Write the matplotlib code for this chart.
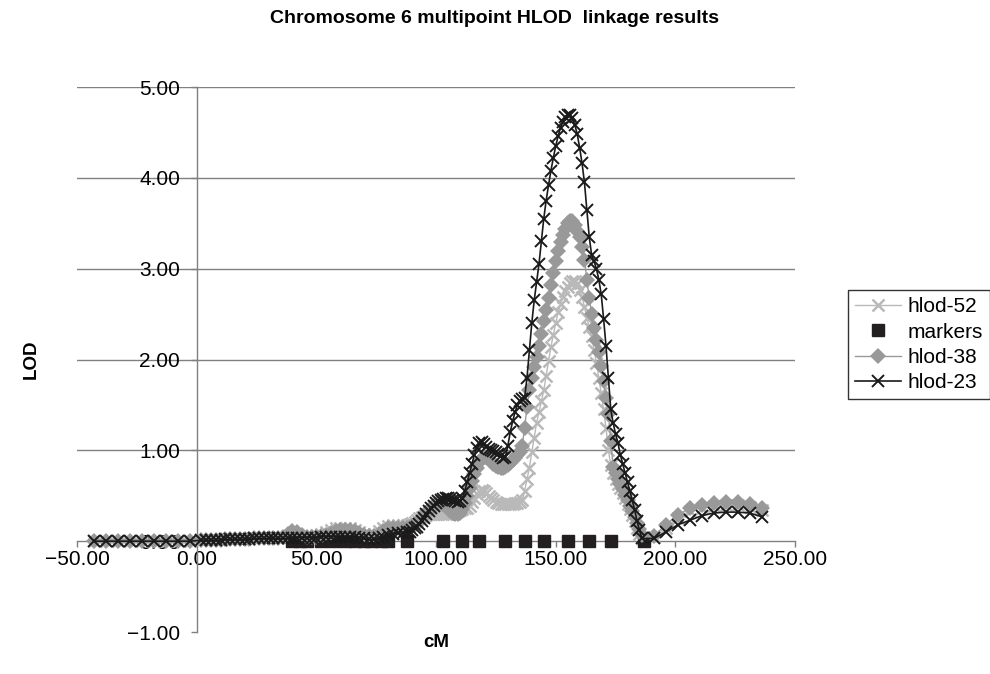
import numpy as np
import matplotlib
matplotlib.use("Agg")
import matplotlib.pyplot as plt
from matplotlib.ticker import FuncFormatter, MultipleLocator

plt.rcParams["font.family"] = ["Liberation Sans", "DejaVu Sans"]

# x grid (cM): sparse left tail, 2 cM steps, 1 cM steps through the peak, sparse right tail
cm_left = np.arange(-43, 0, 5)
cm_mid_a = np.arange(2, 89, 2)
cm_mid_b = np.arange(89, 187, 1)
cm_right = np.arange(191, 237, 5)
cm = np.concatenate([cm_left, cm_mid_a, cm_mid_b, cm_right])

zeros_left = [0.0] * len(cm_left)

# hlod-23
h23_a = [0.01, 0.01, 0.01, 0.01, 0.01, 0.02, 0.02, 0.02, 0.02, 0.02, 0.02, 0.03,
         0.03, 0.03, 0.03, 0.03, 0.03, 0.03, 0.03, 0.04, 0.04, 0.04, 0.04, 0.04,
         0.04, 0.05, 0.05, 0.05, 0.05, 0.05, 0.05, 0.05, 0.05, 0.04, 0.03, 0.02,
         0.02, 0.03, 0.05, 0.07, 0.08, 0.09, 0.09, 0.10]
h23_b = [0.10, 0.12, 0.14, 0.16, 0.19, 0.22, 0.26, 0.30, 0.33, 0.36, 0.39, 0.42,
         0.44, 0.45, 0.46, 0.47, 0.47, 0.46, 0.45, 0.44, 0.43, 0.44, 0.47, 0.55,
         0.65, 0.75, 0.85, 0.95, 1.03, 1.08, 1.09, 1.07, 1.04, 1.02, 1.00, 0.99,
         0.98, 0.96, 0.94, 0.92, 0.93, 1.05, 1.20, 1.32, 1.42, 1.50, 1.54, 1.56,
         1.58, 1.80, 2.10, 2.40, 2.65, 2.85, 3.05, 3.30, 3.55, 3.75, 3.92, 4.08,
         4.22, 4.35, 4.46, 4.55, 4.62, 4.67, 4.69, 4.69, 4.66, 4.58, 4.48, 4.33,
         4.16, 3.95, 3.65, 3.35, 3.15, 3.08, 3.00, 2.88, 2.72, 2.45, 2.15, 1.80,
         1.45, 1.30, 1.18, 1.08, 0.95, 0.85, 0.75, 0.65, 0.55, 0.45, 0.34, 0.22,
         0.12, 0.03]
h23_r = [0.03, 0.10, 0.18, 0.23, 0.28, 0.31, 0.32, 0.32, 0.31, 0.27]

# hlod-38
h38_a = [0.01, 0.01, 0.01, 0.01, 0.01, 0.02, 0.02, 0.02, 0.02, 0.02, 0.02, 0.03,
         0.03, 0.03, 0.03, 0.03, 0.04, 0.05, 0.08, 0.11, 0.10, 0.07, 0.05, 0.05,
         0.05, 0.06, 0.07, 0.09, 0.11, 0.12, 0.12, 0.12, 0.11, 0.09, 0.07, 0.06,
         0.06, 0.08, 0.11, 0.14, 0.15, 0.15, 0.15, 0.15]
h38_b = [0.16, 0.17, 0.18, 0.20, 0.22, 0.25, 0.28, 0.31, 0.34, 0.37, 0.39, 0.41,
         0.42, 0.42, 0.41, 0.39, 0.36, 0.33, 0.31, 0.30, 0.30, 0.31, 0.35, 0.42,
         0.50, 0.58, 0.66, 0.74, 0.81, 0.87, 0.91, 0.93, 0.93, 0.91, 0.88, 0.85,
         0.83, 0.82, 0.81, 0.81, 0.82, 0.84, 0.86, 0.89, 0.92, 0.95, 0.98, 1.05,
         1.25, 1.48, 1.66, 1.80, 1.92, 2.03, 2.15, 2.28, 2.42, 2.55, 2.68, 2.82,
         2.95, 3.08, 3.19, 3.29, 3.37, 3.44, 3.50, 3.53, 3.52, 3.48, 3.42, 3.35,
         3.24, 3.10, 2.88, 2.68, 2.50, 2.35, 2.21, 2.08, 1.93, 1.76, 1.58, 1.40,
         1.10, 0.82, 0.75, 0.69, 0.63, 0.57, 0.51, 0.45, 0.39, 0.33, 0.27, 0.20,
         0.13, 0.07]
h38_r = [0.06, 0.18, 0.29, 0.36, 0.40, 0.42, 0.43, 0.43, 0.41, 0.36]

# hlod-52
h52_a = [0.01, 0.01, 0.01, 0.01, 0.01, 0.02, 0.02, 0.02, 0.02, 0.02, 0.02, 0.03,
         0.03, 0.03, 0.03, 0.03, 0.03, 0.04, 0.05, 0.06, 0.06, 0.05, 0.05, 0.06,
         0.07, 0.08, 0.10, 0.12, 0.14, 0.15, 0.15, 0.14, 0.12, 0.10, 0.08, 0.07,
         0.08, 0.11, 0.14, 0.17, 0.18, 0.18, 0.18, 0.18]
h52_b = [0.19, 0.20, 0.21, 0.23, 0.25, 0.27, 0.28, 0.29, 0.30, 0.30, 0.30, 0.30,
         0.30, 0.30, 0.30, 0.30, 0.30, 0.31, 0.31, 0.32, 0.33, 0.34, 0.35, 0.36,
         0.37, 0.39, 0.43, 0.48, 0.52, 0.55, 0.56, 0.55, 0.53, 0.50, 0.47, 0.45,
         0.43, 0.42, 0.41, 0.41, 0.41, 0.41, 0.41, 0.41, 0.42, 0.42, 0.43, 0.45,
         0.55, 0.68, 0.81, 0.98, 1.14, 1.30, 1.42, 1.54, 1.66, 1.82, 1.98, 2.14,
         2.27, 2.40, 2.52, 2.61, 2.69, 2.75, 2.80, 2.84, 2.86, 2.86, 2.83, 2.77,
         2.69, 2.58, 2.46, 2.36, 2.26, 2.11, 1.96, 1.80, 1.63, 1.45, 1.25, 1.00,
         0.84, 0.75, 0.69, 0.63, 0.58, 0.53, 0.47, 0.41, 0.35, 0.29, 0.22, 0.15,
         0.08, 0.03]
h52_r = [0.05, 0.15, 0.26, 0.33, 0.37, 0.39, 0.40, 0.40, 0.38, 0.34]

hlod_23 = np.array(zeros_left + h23_a + h23_b + h23_r)
hlod_38 = np.array(zeros_left + h38_a + h38_b + h38_r)
hlod_52 = np.array(zeros_left + h52_a + h52_b + h52_r)

# marker positions (cM), all drawn at LOD 0
marker_cm = [40, 43, 46, 52, 57, 62, 66, 70, 73, 77, 80, 88, 103, 111, 118,
             129, 137, 145, 155, 164, 173, 187]
marker_lod = [0.0] * len(marker_cm)

grid_levels = [1, 2, 3, 4, 5]

_AXIS_GRAY = "#808080"
_LIGHT = "#b9b9b9"
_MID = "#999999"
_DARK = "#1a1a1a"

fig = plt.figure(figsize=(9.9, 6.74), dpi=100, facecolor="white")
ax = fig.add_axes([0.0778, 0.0623, 0.7253, 0.8086])

for lvl in grid_levels:
    ax.axhline(lvl, color=_AXIS_GRAY, linewidth=1.0, zorder=1)

ax.plot(cm, hlod_52, color=_LIGHT, linewidth=1.0, marker="x", markersize=9,
        markeredgewidth=1.8, label="hlod-52", zorder=3)
ax.plot(marker_cm, marker_lod, linestyle="none", marker="s", markersize=8.5,
        color="#231f20", label="markers", zorder=3)
ax.plot(cm, hlod_38, color=_MID, linewidth=1.0, marker="D", markersize=8.5,
        markeredgewidth=0, label="hlod-38", zorder=3)
ax.plot(cm, hlod_23, color=_DARK, linewidth=1.2, marker="x", markersize=9,
        markeredgewidth=1.4, label="hlod-23", zorder=3)

ax.set_xlim(-50, 250)
ax.set_ylim(-1, 5)
ax.xaxis.set_major_locator(MultipleLocator(50))
ax.yaxis.set_major_locator(MultipleLocator(1))
fmt = FuncFormatter(lambda v, _: f"{v:.2f}".replace("-", "\u2212"))
ax.xaxis.set_major_formatter(fmt)
ax.yaxis.set_major_formatter(fmt)

for side in ("top", "right"):
    ax.spines[side].set_visible(False)
ax.spines["left"].set_position(("data", 0))
ax.spines["bottom"].set_position(("data", 0))
for side in ("left", "bottom"):
    ax.spines[side].set_color(_AXIS_GRAY)
    ax.spines[side].set_linewidth(1.0)
    ax.spines[side].set_zorder(2)

ax.tick_params(axis="both", direction="out", length=4, width=1.0,
               color=_AXIS_GRAY, labelsize=15, labelcolor="black")
ax.tick_params(axis="y", pad=8)
ax.tick_params(axis="x", pad=2)
ax.set_facecolor("none")

fig.text(0.5, 0.972, "Chromosome 6 multipoint HLOD  linkage results",
         ha="center", va="center", fontsize=14, fontweight="bold")
fig.text(0.4404, 0.047, "cM", ha="center", va="center",
         fontsize=13.5, fontweight="bold")
fig.text(0.0313, 0.467, "LOD", ha="center", va="center", rotation=90,
         fontsize=13.5, fontweight="bold")

leg = fig.legend(loc="upper left", bbox_to_anchor=(0.8566, 0.5697),
                 frameon=True, fancybox=False, shadow=False, fontsize=15,
                 handlelength=2.2, handletextpad=0.3, labelspacing=0.3,
                 borderpad=0.35, borderaxespad=0, numpoints=1)
leg.get_frame().set_edgecolor("black")
leg.get_frame().set_linewidth(1.0)

fig.savefig("out.png", dpi=100, facecolor="white")
